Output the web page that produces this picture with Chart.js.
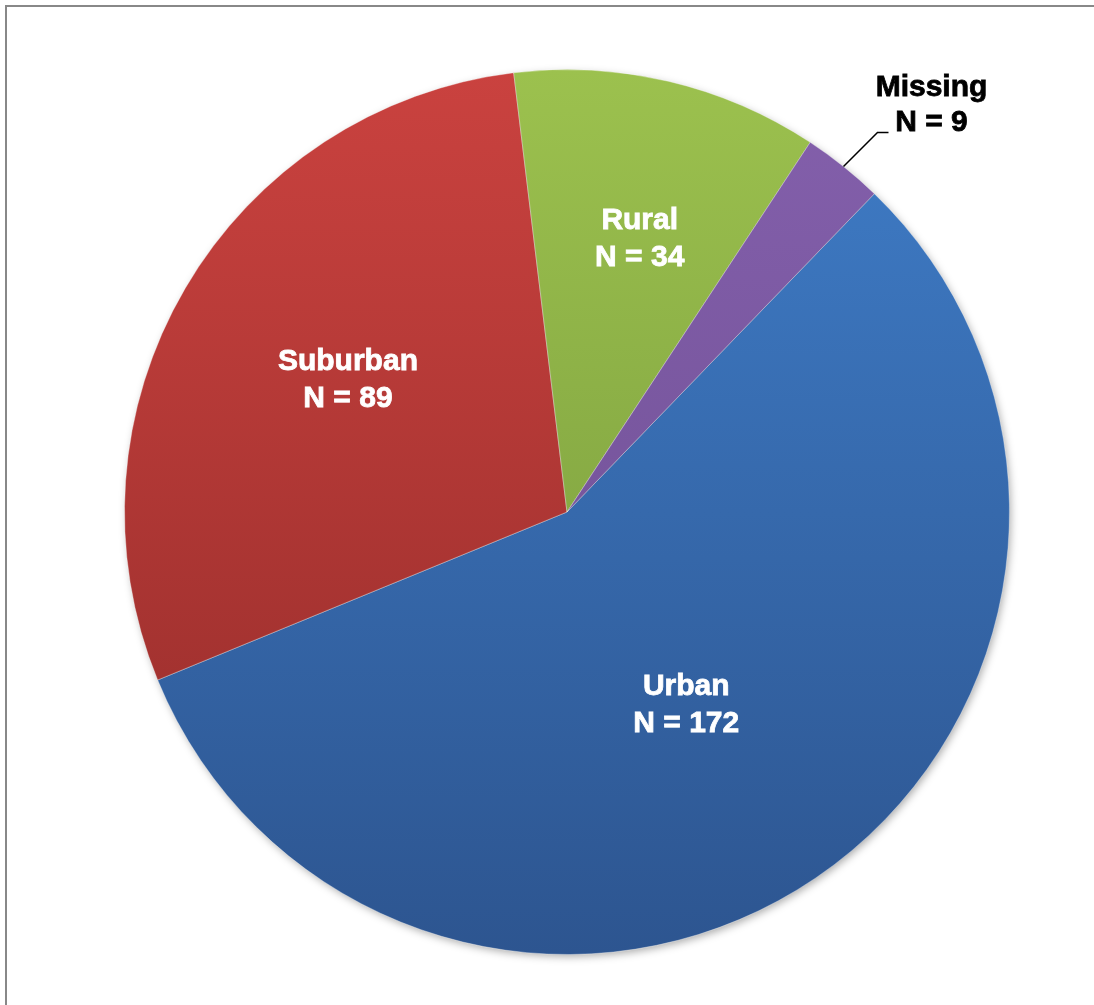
<!DOCTYPE html>
<html>
<head>
<meta charset="utf-8">
<script src="https://cdn.jsdelivr.net/npm/chart.js@4.4.1/dist/chart.umd.min.js"></script>
<style>
  html, body { margin: 0; padding: 0; background: #fff; }
  #wrap { position: relative; width: 1094px; height: 1005px; }
  #frame { position: absolute; left: 5px; top: 5px; right: -10px; bottom: -10px;
           border-left: 2px solid #888; border-top: 2px solid #888; pointer-events: none; }
</style>
</head>
<body>
<div id="wrap">
  <canvas id="chart" width="1094" height="1005"></canvas>
  <div id="frame"></div>
</div>
<script>
// Pie data
const categories = ['Urban', 'Suburban', 'Rural', 'Missing'];
const counts = [172, 89, 34, 9];
// top / bottom colours of each slice gradient
const topColors = ['#3F7DC8', '#CA423F', '#9CC14E', '#8460AC'];
const bottomColors = ['#2D5590', '#922B29', '#72943A', '#6A4B8E'];

function sliceFill(ctx) {
  const chart = ctx.chart;
  const area = chart.chartArea;
  if (!area) return topColors[ctx.dataIndex];
  const g = chart.ctx.createLinearGradient(0, area.top, 0, area.bottom);
  g.addColorStop(0, topColors[ctx.dataIndex]);
  g.addColorStop(1, bottomColors[ctx.dataIndex]);
  return g;
}

// soft shadow under the whole pie
const pieShadow = {
  id: 'pieShadow',
  beforeDatasetsDraw(chart) {
    const arc = chart.getDatasetMeta(0).data[0];
    if (!arc) return;
    const c = chart.ctx;
    c.save();
    c.shadowColor = 'rgba(0,0,0,0.35)';
    c.shadowBlur = 8;
    c.shadowOffsetX = 2;
    c.shadowOffsetY = 3;
    c.beginPath();
    c.arc(arc.x, arc.y, arc.outerRadius - 1, 0, Math.PI * 2);
    c.fillStyle = '#555';
    c.fill();
    c.restore();
  }
};

// slice labels: inside in white, "Missing" outside with leader line
const sliceLabels = {
  id: 'sliceLabels',
  afterDatasetsDraw(chart, args, opts) {
    const c = chart.ctx;
    const meta = chart.getDatasetMeta(0);
    c.save();
    c.font = 'bold 30px "Liberation Sans", Arial, sans-serif';
    c.textAlign = 'center';
    c.textBaseline = 'middle';
    c.lineWidth = 0.8;
    meta.data.forEach((arc, i) => {
      const mid = (arc.startAngle + arc.endAngle) / 2;
      const lines = [categories[i], 'N = ' + counts[i]];
      if (i === 3) {
        const ex = arc.x + Math.cos(mid) * arc.outerRadius;
        const ey = arc.y + Math.sin(mid) * arc.outerRadius;
        c.strokeStyle = '#000';
        c.lineWidth = 1.5;
        c.beginPath();
        c.moveTo(ex, ey);
        c.lineTo(ex + 34, ey - 34);
        c.lineTo(ex + 45, ey - 34);
        c.stroke();
        c.lineWidth = 0.8;
        c.fillStyle = '#000';
        [[lines[0], ey - 79], [lines[1], ey - 44]].forEach(([t, ty]) => {
          c.fillText(t, ex + 88, ty);
          c.strokeText(t, ex + 88, ty);
        });
      } else {
        const r = arc.outerRadius * opts.radius[i];
        const x = arc.x + Math.cos(mid) * r + opts.dx[i];
        const y = arc.y + Math.sin(mid) * r + opts.dy[i];
        c.fillStyle = '#fff';
        c.strokeStyle = '#fff';
        [[lines[0], y - 18], [lines[1], y + 19]].forEach(([t, ty]) => {
          c.fillText(t, x, ty);
          c.strokeText(t, x, ty);
        });
      }
    });
    c.restore();
  }
};

new Chart(document.getElementById('chart'), {
  type: 'pie',
  data: {
    labels: categories,
    datasets: [{
      data: counts,
      backgroundColor: sliceFill,
      borderColor: 'rgba(255,255,255,0.35)',
      borderWidth: 1
    }]
  },
  options: {
    responsive: false,
    animation: false,
    rotation: 44,
    layout: { padding: { left: 124, right: 84, top: 69, bottom: 50 } },
    plugins: {
      legend: { display: false },
      tooltip: { enabled: false },
      sliceLabels: {
        radius: [0.5, 0.6, 0.64, 1],
        dx: [-5, 10, 8, 0],
        dy: [10, 2, 2, 0]
      }
    }
  },
  plugins: [pieShadow, sliceLabels]
});
</script>
</body>
</html>
